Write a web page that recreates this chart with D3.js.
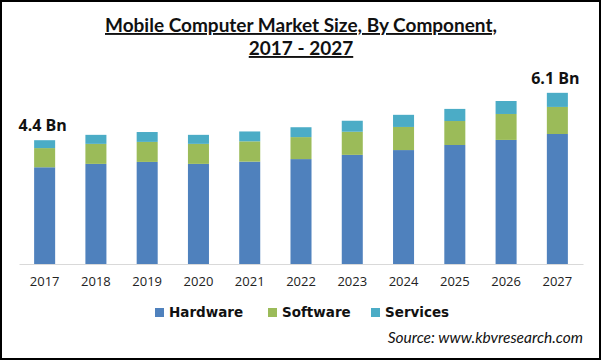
<!DOCTYPE html>
<html>
<head>
<meta charset="utf-8">
<script src="https://cdn.jsdelivr.net/npm/d3@7"></script>
<style>
  html, body { margin: 0; padding: 0; background: #fff; }
  svg { display: block; }
</style>
</head>
<body>
<svg id="chart" width="601" height="360"></svg>
<script>
const years = ["2017","2018","2019","2020","2021","2022","2023","2024","2025","2026","2027"];
const hardware = [3.43, 3.55, 3.62, 3.55, 3.63, 3.72, 3.87, 4.04, 4.22, 4.40, 4.61];
const software = [0.68, 0.71, 0.71, 0.71, 0.72, 0.78, 0.82, 0.82, 0.85, 0.92, 0.96];
const services = [0.28, 0.32, 0.35, 0.32, 0.35, 0.35, 0.39, 0.43, 0.43, 0.46, 0.50];
const seriesNames = ["Hardware", "Software", "Services"];
const seriesColors = ["#4f81bd", "#9bbb59", "#4bacc6"];
const endLabels = [{year: "2017", text: "4.4 Bn"}, {year: "2027", text: "6.1 Bn"}];

const svg = d3.select("#chart");

// border
svg.append("rect").attr("x", 1).attr("y", 1).attr("width", 599).attr("height", 358)
  .attr("fill", "#fff").attr("stroke", "#000").attr("stroke-width", 2);

// title
const title = svg.append("text").attr("text-anchor", "middle")
  .attr("font-family", "Lato, 'Open Sans', sans-serif").attr("font-weight", 700)
  .attr("font-size", 19).attr("fill", "#111").attr("text-decoration", "underline");
title.append("tspan").attr("x", 301).attr("y", 32).text("Mobile Computer Market Size, By Component,");
title.append("tspan").attr("x", 301).attr("y", 55).text("2017 - 2027");

const table = years.map((yr, i) => ({year: yr, Hardware: hardware[i], Software: software[i], Services: services[i]}));
const stack = d3.stack().keys(seriesNames)(table);

const x = d3.scaleBand().domain(years).range([19, 583]).paddingInner(0.59).paddingOuter(0.295);
const y = d3.scaleLinear().domain([0, 6.5]).range([264, 80.7]);
const color = d3.scaleOrdinal().domain(seriesNames).range(seriesColors);

svg.append("g").selectAll("g").data(stack).join("g")
  .attr("fill", d => color(d.key))
  .selectAll("rect").data(d => d).join("rect")
  .attr("x", d => x(d.data.year))
  .attr("width", x.bandwidth())
  .attr("y", d => y(d[1]))
  .attr("height", d => y(d[0]) - y(d[1]));

// axis
const xAxis = svg.append("g").attr("transform", "translate(0,264)")
  .call(d3.axisBottom(x).tickSize(0).tickPadding(13));
xAxis.select(".domain").attr("stroke", "#d9d9d9").attr("stroke-width", 1.2);
xAxis.selectAll("text").attr("font-family", "'Open Sans', sans-serif").attr("font-size", 13).attr("fill", "#222");

// end labels
const totals = {};
table.forEach(d => totals[d.year] = d.Hardware + d.Software + d.Services);
svg.append("g").selectAll("text").data(endLabels).join("text")
  .attr("x", d => x(d.year) + x.bandwidth() / 2 - 2)
  .attr("y", d => y(totals[d.year]) - 9)
  .attr("text-anchor", "middle")
  .attr("font-family", "'Open Sans', sans-serif").attr("font-weight", 700).attr("font-size", 16)
  .attr("fill", "#111")
  .text(d => d.text);

// legend
const legendX = [155, 268, 371];
const lg = svg.append("g").selectAll("g").data(seriesNames).join("g")
  .attr("transform", (d, i) => `translate(${legendX[i]},308)`);
lg.append("rect").attr("width", 9).attr("height", 9).attr("fill", d => color(d));
lg.append("text").attr("x", 14).attr("y", 9)
  .attr("font-family", "'DejaVu Sans', sans-serif").attr("font-weight", 700).attr("font-size", 13.5)
  .attr("fill", "#111").text(d => d);

// source
svg.append("text").attr("x", 583).attr("y", 343).attr("text-anchor", "end")
  .attr("font-family", "Lato, sans-serif").attr("font-style", "italic").attr("font-size", 15.5)
  .attr("fill", "#111").text("Source: www.kbvresearch.com");
</script>
</body>
</html>
